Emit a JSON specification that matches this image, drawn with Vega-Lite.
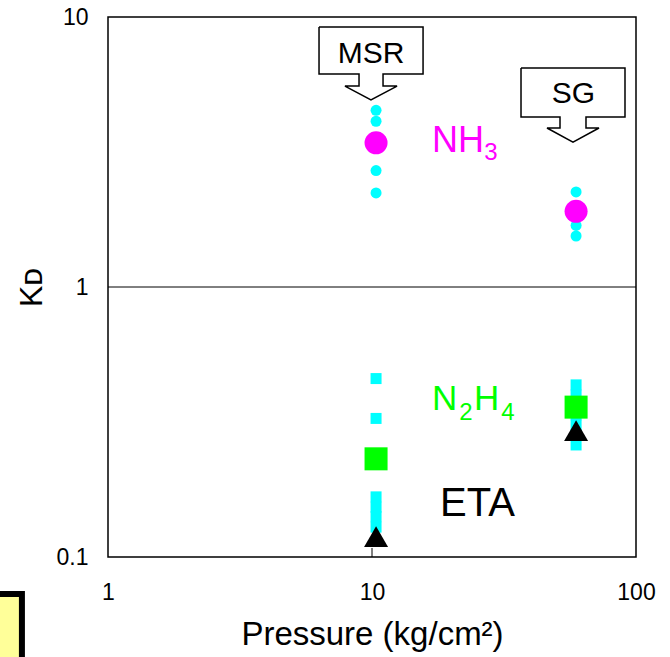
{
  "$schema": "https://vega.github.io/schema/vega-lite/v6.json",
  "width": 528,
  "height": 540,
  "autosize": {"type": "none"},
  "padding": {"left": 108, "top": 17, "right": 34, "bottom": 100},
  "background": "white",
  "config": {
    "view": {"stroke": "black", "strokeWidth": 1.5},
    "font": "Liberation Sans"
  },
  "datasets": {
    "pts": [
      {"c": "NH3", "kind": "run", "p": 10.36, "k": 4.51},
      {"c": "NH3", "kind": "run", "p": 10.36, "k": 4.11},
      {"c": "NH3", "kind": "run", "p": 10.36, "k": 2.70},
      {"c": "NH3", "kind": "run", "p": 10.36, "k": 2.23},
      {"c": "NH3", "kind": "run", "p": 59.3, "k": 2.25},
      {"c": "NH3", "kind": "run", "p": 59.3, "k": 1.80},
      {"c": "NH3", "kind": "run", "p": 59.3, "k": 1.69},
      {"c": "NH3", "kind": "run", "p": 59.3, "k": 1.545},
      {"c": "NH3", "kind": "mean", "p": 10.36, "k": 3.42},
      {"c": "NH3", "kind": "mean", "p": 59.3, "k": 1.907},
      {"c": "N2H4", "kind": "run", "p": 10.36, "k": 0.458},
      {"c": "N2H4", "kind": "run", "p": 10.36, "k": 0.326},
      {"c": "N2H4", "kind": "run", "p": 10.36, "k": 0.167},
      {"c": "N2H4", "kind": "run", "p": 10.36, "k": 0.153},
      {"c": "N2H4", "kind": "run", "p": 10.36, "k": 0.141},
      {"c": "N2H4", "kind": "run", "p": 10.36, "k": 0.129},
      {"c": "N2H4", "kind": "run", "p": 59.3, "k": 0.434},
      {"c": "N2H4", "kind": "run", "p": 59.3, "k": 0.398},
      {"c": "N2H4", "kind": "run", "p": 59.3, "k": 0.366},
      {"c": "N2H4", "kind": "run", "p": 59.3, "k": 0.336},
      {"c": "N2H4", "kind": "run", "p": 59.3, "k": 0.308},
      {"c": "N2H4", "kind": "run", "p": 59.3, "k": 0.283},
      {"c": "N2H4", "kind": "run", "p": 59.3, "k": 0.26},
      {"c": "N2H4", "kind": "mean", "p": 10.36, "k": 0.231},
      {"c": "N2H4", "kind": "mean", "p": 59.3, "k": 0.359},
      {"c": "ETA", "kind": "mean", "p": 10.36, "k": 0.119},
      {"c": "ETA", "kind": "mean", "p": 59.3, "k": 0.294}
    ],
    "callouts": [
      {"id": "MSR", "o": 0, "p": 6.30, "k": 9.18},
      {"id": "MSR", "o": 1, "p": 15.61, "k": 9.18},
      {"id": "MSR", "o": 2, "p": 15.61, "k": 6.15},
      {"id": "MSR", "o": 3, "p": 11.01, "k": 6.15},
      {"id": "MSR", "o": 4, "p": 11.01, "k": 5.55},
      {"id": "MSR", "o": 5, "p": 12.44, "k": 5.55},
      {"id": "MSR", "o": 6, "p": 9.91, "k": 4.93},
      {"id": "MSR", "o": 7, "p": 7.90, "k": 5.55},
      {"id": "MSR", "o": 8, "p": 8.93, "k": 5.55},
      {"id": "MSR", "o": 9, "p": 8.93, "k": 6.15},
      {"id": "MSR", "o": 10, "p": 6.30, "k": 6.15},
      {"id": "MSR", "o": 11, "p": 6.30, "k": 9.18},
      {"id": "SG", "o": 0, "p": 36.68, "k": 6.47},
      {"id": "SG", "o": 1, "p": 90.85, "k": 6.47},
      {"id": "SG", "o": 2, "p": 90.85, "k": 4.26},
      {"id": "SG", "o": 3, "p": 64.65, "k": 4.26},
      {"id": "SG", "o": 4, "p": 64.65, "k": 3.88},
      {"id": "SG", "o": 5, "p": 72.41, "k": 3.88},
      {"id": "SG", "o": 6, "p": 57.72, "k": 3.44},
      {"id": "SG", "o": 7, "p": 46.02, "k": 3.88},
      {"id": "SG", "o": 8, "p": 51.54, "k": 3.88},
      {"id": "SG", "o": 9, "p": 51.54, "k": 4.26},
      {"id": "SG", "o": 10, "p": 36.68, "k": 4.26},
      {"id": "SG", "o": 11, "p": 36.68, "k": 6.47}
    ],
    "labels": [
      {"t": "MSR", "g": "callout", "r": "callout", "p": 9.91, "k": 6.755},
      {"t": "SG", "g": "callout", "r": "callout", "p": 57.9, "k": 4.80},
      {"t": "NH", "g": "NH3", "r": "main", "p": 16.88, "k": 3.162},
      {"t": "3", "g": "NH3", "r": "sub", "p": 26.6, "k": 2.954},
      {"t": "N", "g": "N2H4", "r": "main", "p": 16.88, "k": 0.3503},
      {"t": "2", "g": "N2H4", "r": "sub", "p": 21.4, "k": 0.3217},
      {"t": "H", "g": "N2H4", "r": "main", "p": 24.34, "k": 0.3503},
      {"t": "4", "g": "N2H4", "r": "sub", "p": 30.9, "k": 0.3217},
      {"t": "ETA", "g": "ETA", "r": "eta", "p": 18.1, "k": 0.1418}
    ],
    "grid": [{"k": 1}],
    "tick": [{"p": 10, "k": 0.1, "k2": 0.108}],
    "box": [{"p": 0.357, "p2": 0.472, "k": 0.0729, "k2": 0.035}]
  },
  "layer": [
    {
      "data": {"name": "grid"},
      "mark": {"type": "rule", "color": "black", "strokeWidth": 1},
      "encoding": {
        "y": {
          "field": "k", "type": "quantitative",
          "scale": {"type": "log", "domain": [0.1, 10]},
          "axis": {
            "title": "Kᴅ", "values": [0.1, 1, 10], "format": "~g",
            "grid": false, "ticks": false, "domain": false,
            "labelFontSize": 23, "labelPadding": 20, "labelColor": "black",
            "titleFontSize": 32, "titleFontWeight": "normal", "titleColor": "black",
            "titlePadding": 8
          }
        }
      }
    },
    {
      "data": {"name": "box"},
      "mark": {"type": "rect", "clip": false, "fill": "#ffff99", "stroke": "black", "strokeWidth": 6},
      "encoding": {
        "x": {
          "field": "p", "type": "quantitative",
          "scale": {"type": "log", "domain": [1, 100]},
          "axis": {
            "title": "Pressure (kg/cm²)", "values": [1, 10, 100], "format": "~g",
            "grid": false, "domain": false, "ticks": false,
            "labelFontSize": 23, "labelPadding": 24, "labelColor": "black", "labelFlush": false,
            "titleFontSize": 33, "titleFontWeight": "normal", "titleColor": "black",
            "titlePadding": 14
          }
        },
        "x2": {"field": "p2"},
        "y": {"field": "k", "type": "quantitative"},
        "y2": {"field": "k2"}
      }
    },
    {
      "data": {"name": "tick"},
      "mark": {"type": "rule", "color": "black", "strokeWidth": 1},
      "encoding": {
        "x": {"field": "p", "type": "quantitative"},
        "y": {"field": "k", "type": "quantitative"},
        "y2": {"field": "k2"}
      }
    },
    {
      "data": {"name": "callouts"},
      "mark": {"type": "line", "color": "black", "strokeWidth": 1.5},
      "encoding": {
        "x": {"field": "p", "type": "quantitative"},
        "y": {"field": "k", "type": "quantitative"},
        "detail": {"field": "id"},
        "order": {"field": "o"}
      }
    },
    {
      "data": {"name": "pts"},
      "transform": [{"filter": "datum.c == 'NH3' && datum.kind == 'run'"}],
      "mark": {"type": "point", "shape": "circle", "filled": true, "color": "#00ffff", "opacity": 1, "size": 121},
      "encoding": {
        "x": {"field": "p", "type": "quantitative"},
        "y": {"field": "k", "type": "quantitative"}
      }
    },
    {
      "data": {"name": "pts"},
      "transform": [{"filter": "datum.c == 'N2H4' && datum.kind == 'run'"}],
      "mark": {"type": "point", "shape": "square", "filled": true, "color": "#00ffff", "opacity": 1, "size": 121},
      "encoding": {
        "x": {"field": "p", "type": "quantitative"},
        "y": {"field": "k", "type": "quantitative"}
      }
    },
    {
      "data": {"name": "pts"},
      "transform": [{"filter": "datum.c == 'NH3' && datum.kind == 'mean'"}],
      "mark": {"type": "point", "shape": "circle", "filled": true, "color": "#ff00ff", "opacity": 1, "size": 530},
      "encoding": {
        "x": {"field": "p", "type": "quantitative"},
        "y": {"field": "k", "type": "quantitative"}
      }
    },
    {
      "data": {"name": "pts"},
      "transform": [{"filter": "datum.c == 'N2H4' && datum.kind == 'mean'"}],
      "mark": {"type": "point", "shape": "square", "filled": true, "color": "#00ff00", "opacity": 1, "size": 530},
      "encoding": {
        "x": {"field": "p", "type": "quantitative"},
        "y": {"field": "k", "type": "quantitative"}
      }
    },
    {
      "data": {"name": "pts"},
      "transform": [{"filter": "datum.c == 'ETA'"}],
      "mark": {"type": "point", "shape": "triangle-up", "filled": true, "color": "black", "opacity": 1, "size": 576},
      "encoding": {
        "x": {"field": "p", "type": "quantitative"},
        "y": {"field": "k", "type": "quantitative"}
      }
    },
    {
      "data": {"name": "labels"},
      "transform": [{"filter": "datum.r == 'callout'"}],
      "mark": {"type": "text", "align": "center", "baseline": "alphabetic", "fontSize": 30, "color": "black"},
      "encoding": {
        "x": {"field": "p", "type": "quantitative"},
        "y": {"field": "k", "type": "quantitative"},
        "text": {"field": "t"}
      }
    },
    {
      "data": {"name": "labels"},
      "transform": [{"filter": "datum.r == 'main' && datum.g == 'NH3'"}],
      "mark": {"type": "text", "align": "left", "baseline": "alphabetic", "fontSize": 36, "color": "#ff00ff"},
      "encoding": {
        "x": {"field": "p", "type": "quantitative"},
        "y": {"field": "k", "type": "quantitative"},
        "text": {"field": "t"}
      }
    },
    {
      "data": {"name": "labels"},
      "transform": [{"filter": "datum.r == 'sub' && datum.g == 'NH3'"}],
      "mark": {"type": "text", "align": "left", "baseline": "alphabetic", "fontSize": 24, "color": "#ff00ff"},
      "encoding": {
        "x": {"field": "p", "type": "quantitative"},
        "y": {"field": "k", "type": "quantitative"},
        "text": {"field": "t"}
      }
    },
    {
      "data": {"name": "labels"},
      "transform": [{"filter": "datum.r == 'main' && datum.g == 'N2H4'"}],
      "mark": {"type": "text", "align": "left", "baseline": "alphabetic", "fontSize": 35, "color": "#00ff00"},
      "encoding": {
        "x": {"field": "p", "type": "quantitative"},
        "y": {"field": "k", "type": "quantitative"},
        "text": {"field": "t"}
      }
    },
    {
      "data": {"name": "labels"},
      "transform": [{"filter": "datum.r == 'sub' && datum.g == 'N2H4'"}],
      "mark": {"type": "text", "align": "left", "baseline": "alphabetic", "fontSize": 24, "color": "#00ff00"},
      "encoding": {
        "x": {"field": "p", "type": "quantitative"},
        "y": {"field": "k", "type": "quantitative"},
        "text": {"field": "t"}
      }
    },
    {
      "data": {"name": "labels"},
      "transform": [{"filter": "datum.r == 'eta'"}],
      "mark": {"type": "text", "align": "left", "baseline": "alphabetic", "fontSize": 40, "color": "black"},
      "encoding": {
        "x": {"field": "p", "type": "quantitative"},
        "y": {"field": "k", "type": "quantitative"},
        "text": {"field": "t"}
      }
    }
  ]
}
